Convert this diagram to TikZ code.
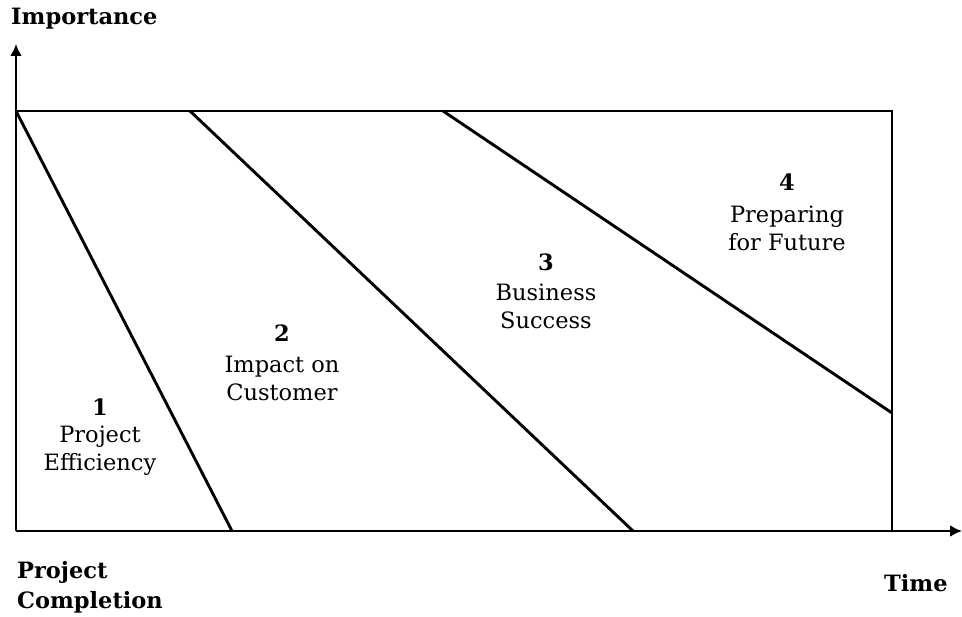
\documentclass[tikz,border=0pt]{standalone}
\usepackage{fontspec}
\setmainfont{DejaVu Serif}
\usetikzlibrary{arrows.meta}
\begin{document}
\begin{tikzpicture}[x=1pt,y=-1pt,
  ln/.style={line width=2.9pt, line join=miter},
  ax/.style={line width=2.9pt, -{Latex[length=12pt,width=12pt]}},
  lbl/.style={align=center, font=\fontsize{22.5}{28}\selectfont, inner sep=0pt},
  num/.style={font=\fontsize{22.5}{28}\selectfont\bfseries, inner sep=0pt},
  ttl/.style={font=\fontsize{22.5}{30}\selectfont\bfseries, inner sep=0pt, align=left}]
\useasboundingbox (0,0) rectangle (962,617);
\coordinate (O) at (16,531);
\coordinate (Ytop) at (16,44);
\coordinate (Xend) at (962,531);
\coordinate (TL) at (16,111);
\coordinate (TR) at (892,111);
\coordinate (BR) at (892,531);
\coordinate (a1) at (232,531);
\coordinate (s2) at (190,111);
\coordinate (a2) at (633,531);
\coordinate (s3) at (443,111);
\coordinate (a3) at (892,413);
\draw[ln] (TL) -- (TR) -- (BR);
\draw[ln] (TL) -- (a1);
\draw[ln] (s2) -- (a2);
\draw[ln] (s3) -- (a3);
\draw[ax] (O) -- (Ytop);
\draw[ax] (O) -- (Xend);
\node[ttl, anchor=west] (imp) at (11,19) {Importance};
\node[ttl, anchor=west] (pc1) at (17,572) {Project};
\node[ttl, anchor=west] (pc2) at (17,602) {Completion};
\node[ttl, anchor=west] (time) at (884,583) {Time};
\node[num] (n1) at (100,407) {1};
\node[lbl] (l1) at (100,451) {Project\\Efficiency};
\node[num] (n2) at (282,333) {2};
\node[lbl] (l2) at (282,378) {Impact on\\Customer};
\node[num] (n3) at (546,262) {3};
\node[lbl] (l3) at (546,306) {Business\\Success};
\node[num] (n4) at (787,182) {4};
\node[lbl] (l4) at (787,228) {Preparing\\for Future};
\end{tikzpicture}
\end{document}
